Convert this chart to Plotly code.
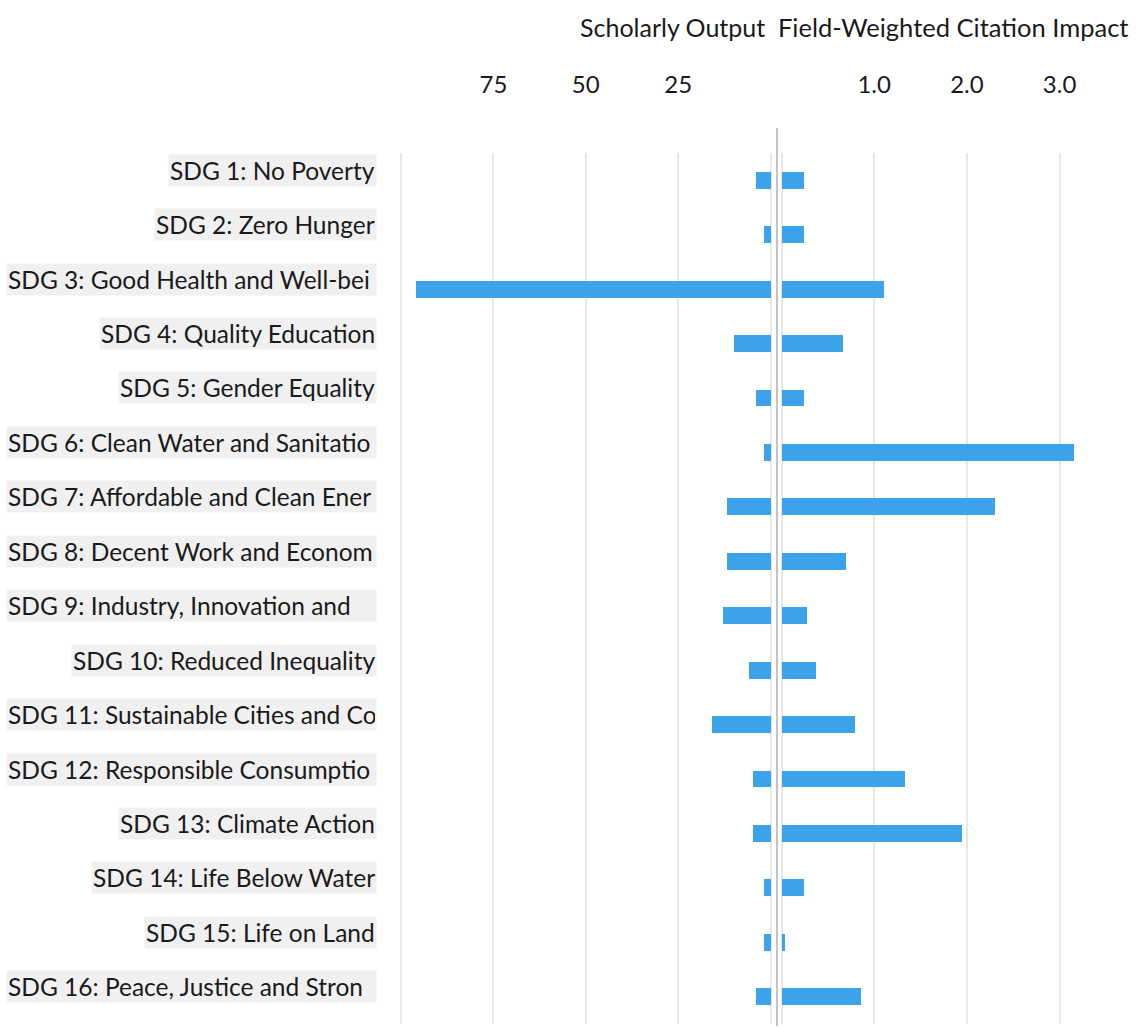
import plotly.graph_objects as go

# SDG categories (labels as shown, clipped to the label column)
sdg_labels = [
    "SDG 1: No Poverty",
    "SDG 2: Zero Hunger",
    "SDG 3: Good Health and Well-bei",
    "SDG 4: Quality Education",
    "SDG 5: Gender Equality",
    "SDG 6: Clean Water and Sanitatio",
    "SDG 7: Affordable and Clean Ener",
    "SDG 8: Decent Work and Econom",
    "SDG 9: Industry, Innovation and ",
    "SDG 10: Reduced Inequality",
    "SDG 11: Sustainable Cities and Co",
    "SDG 12: Responsible Consumptio",
    "SDG 13: Climate Action",
    "SDG 14: Life Below Water",
    "SDG 15: Life on Land",
    "SDG 16: Peace, Justice and Stron",
]
clipped = [False, False, True, False, False, True, True, True, True,
           False, True, True, False, False, False, True]

scholarly_output = [4, 2, 96, 10, 4, 2, 12, 12, 13, 6, 16, 5, 5, 2, 2, 4]
fwci = [0.24, 0.24, 1.11, 0.66, 0.24, 3.15, 2.30, 0.70, 0.28, 0.37,
        0.79, 1.33, 1.95, 0.24, 0.04, 0.86]

output_ticks = [0, 25, 50, 75, 100]
output_ticktext = ["", "25", "50", "75", ""]
fwci_ticks = [0, 1, 2, 3]
fwci_ticktext = ["", "1.0", "2.0", "3.0"]

W, H = 1138, 1028
M_TOP, M_BOTTOM = 153, 4
FONT = "Lato, 'Liberation Sans', sans-serif"
BAR = "#3aa3e9"
GRID = "#e8e8e8"
TXT = "#1a1a1a"

# pixel scale of each panel
OUT_PX = 3.695      # pixels per publication
FWCI_PX = 92.7      # pixels per FWCI unit
OUT_ZERO, OUT_LEFT, OUT_RIGHT = 770.5, 399.5, 773.0
FWCI_ZERO, FWCI_LEFT = 781.5, 780.0

cats = list(range(len(sdg_labels)))

fig = go.Figure()
fig.add_trace(go.Bar(
    x=scholarly_output, y=cats, orientation="h", xaxis="x", yaxis="y",
    marker=dict(color=BAR, line=dict(width=0)), width=0.31,
    showlegend=False, hoverinfo="x",
))
fig.add_trace(go.Bar(
    x=fwci, y=cats, orientation="h", xaxis="x2", yaxis="y",
    marker=dict(color=BAR, line=dict(width=0)), width=0.31,
    showlegend=False, hoverinfo="x",
))

px = lambda v: v / W
plot_h = H - M_TOP - M_BOTTOM
py = lambda pix: (H - M_BOTTOM - pix) / plot_h

axis_common = dict(
    side="top", showline=False, zeroline=False, ticks="",
    showgrid=True, gridcolor=GRID, gridwidth=1.5,
    tickfont=dict(family=FONT, size=24, color=TXT),
    ticklabelstandoff=54, fixedrange=True,
)

fig.update_layout(
    width=W, height=H,
    margin=dict(l=0, r=0, t=M_TOP, b=M_BOTTOM, pad=0),
    paper_bgcolor="white", plot_bgcolor="white",
    bargap=0,
    xaxis=dict(domain=[px(OUT_LEFT), px(OUT_RIGHT)],
               range=[(OUT_ZERO - OUT_LEFT) / OUT_PX,
                      -(OUT_RIGHT - OUT_ZERO) / OUT_PX],
               tickmode="array", tickvals=output_ticks,
               ticktext=output_ticktext, **axis_common),
    xaxis2=dict(domain=[px(FWCI_LEFT), 1.0],
                range=[-(FWCI_ZERO - FWCI_LEFT) / FWCI_PX,
                       (W - FWCI_ZERO) / FWCI_PX],
                anchor="y", tickmode="array", tickvals=fwci_ticks,
                ticktext=fwci_ticktext, **axis_common),
    yaxis=dict(range=[len(cats) - 0.5, -0.5], showticklabels=False,
               showgrid=False, zeroline=False, showline=False,
               fixedrange=True),
)

# Divider between the two panels
fig.add_shape(type="line", xref="paper", yref="paper",
              x0=px(777), x1=px(777), y0=py(1026), y1=py(128),
              line=dict(color="#c4c4c4", width=2))

# Panel titles
fig.add_annotation(text="Scholarly Output", xref="paper", yref="paper",
                   x=px(767), y=py(27), xanchor="right", yanchor="middle",
                   showarrow=False, font=dict(family=FONT, size=25, color=TXT))
fig.add_annotation(text="Field-Weighted Citation Impact", xref="paper", yref="paper",
                   x=px(776), y=py(27), xanchor="left", yanchor="middle",
                   showarrow=False, font=dict(family=FONT, size=25.5, color=TXT))

# Category labels with light highlight boxes
for i, (lab, clip) in enumerate(zip(sdg_labels, clipped)):
    extra = dict(width=367, align="left") if clip else {}
    fig.add_annotation(
        text=lab, xref="paper", yref="y", x=px(377), y=i,
        xanchor="right", yanchor="middle", yshift=10, showarrow=False,
        bgcolor="#f0f0f0", borderpad=1,
        font=dict(family=FONT, size=24.5, color=TXT), **extra,
    )

fig.write_html("out.html")
